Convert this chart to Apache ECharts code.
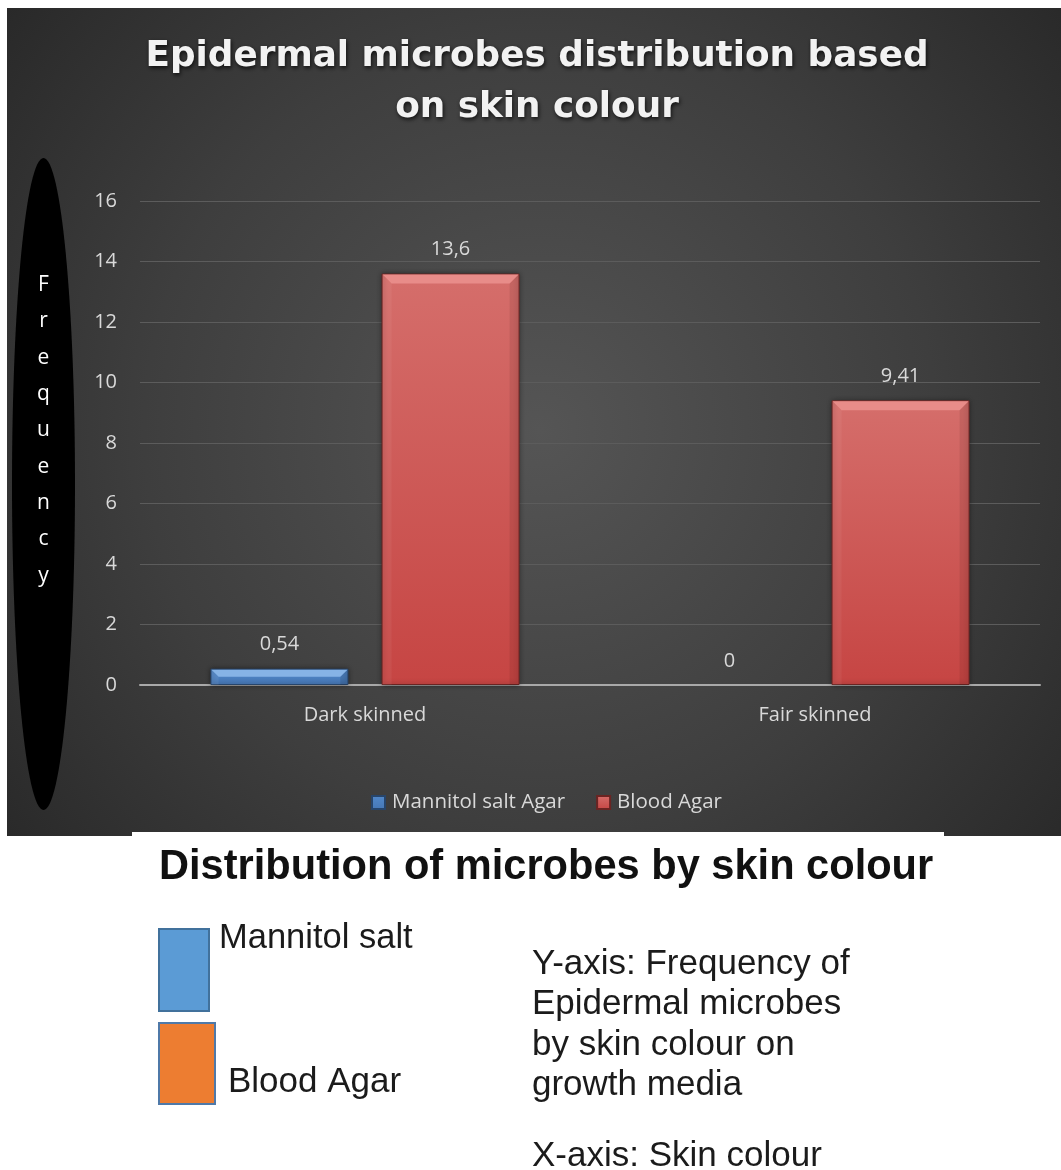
<!DOCTYPE html>
<html>
<head>
<meta charset="utf-8">
<script src="https://cdn.jsdelivr.net/npm/echarts@6/dist/echarts.min.js"></script>
<style>
  html, body { margin: 0; padding: 0; background: #ffffff; }
  #chart { width: 1061px; height: 1170px; }
</style>
</head>
<body>
<div id="chart"></div>
<script>
// ---- data ----
const categories = ['Dark skinned', 'Fair skinned'];
const seriesNames = ['Mannitol salt Agar', 'Blood Agar'];
const mannitolSalt = [0.54, 0];
const bloodAgar = [13.6, 9.41];
const yMin = 0, yMax = 16, yStep = 2;

// ---- text ----
const titleLines = ['Epidermal microbes distribution based', 'on skin colour'];
const yAxisTitle = 'Frequency';
const noteTitle = 'Distribution of microbes by skin colour';
const keyLabels = ['Mannitol salt', 'Blood Agar'];
const yNoteLines = ['Y-axis: Frequency of', 'Epidermal microbes', 'by skin colour on', 'growth media'];
const xNote = 'X-axis: Skin colour';

// ---- styling ----
const BAR_W = 138;
const BAR_GAP = 0.24;
const LABEL_COLOR = '#d9d9d9';
const BODY_FONT = '"Open Sans", "DejaVu Sans", sans-serif';
const NOTE_FONT = '"Liberation Sans", Arial, sans-serif';
const SKINS = [
  { top: '#5289cb', bottom: '#4677b5', edge: '#27456b', bevelTop: '#86b3e6', left: 'rgba(255,255,255,0.06)', right: 'rgba(0,0,0,0.10)' },
  { top: '#d56e6b', bottom: '#c64543', edge: '#6a2422', bevelTop: '#e88c89', left: 'rgba(255,255,255,0.05)', right: 'rgba(0,0,0,0.08)' }
];

const fmt = v => String(v).replace('.', ',');
const valueSets = [mannitolSalt, bloodAgar];

function barSeries(i) {
  const s = SKINS[i];
  return {
    type: 'bar',
    name: seriesNames[i],
    // empty bars get no outline so nothing is drawn along the axis
    data: valueSets[i].map(v => ({ value: v, itemStyle: { borderWidth: v > 0 ? 1 : 0 } })),
    barWidth: BAR_W,
    barGap: (BAR_GAP * 100) + '%',
    z: 2,
    itemStyle: {
      color: { type: 'linear', x: 0, y: 0, x2: 0, y2: 1,
        colorStops: [{ offset: 0, color: s.top }, { offset: 1, color: s.bottom }] },
      borderColor: s.edge,
      borderWidth: 1,
      shadowColor: 'rgba(0,0,0,0.45)',
      shadowBlur: 5
    },
    label: {
      show: true,
      position: 'top',
      distance: 14,
      color: LABEL_COLOR,
      fontSize: 20,
      fontFamily: BODY_FONT,
      formatter: p => fmt(p.value)
    }
  };
}

// bevel highlight drawn over each bar: [category index, value, series index]
const bevelData = [];
valueSets.forEach((vals, s) => vals.forEach((v, c) => bevelData.push([c, v, s])));

const bevelSeries = {
  type: 'custom',
  name: 'bevel',
  silent: true,
  z: 3,
  data: bevelData,
  renderItem(params, api) {
    const v = api.value(1);
    if (!(v > 0)) return;
    const s = api.value(2);
    const top = api.coord([api.value(0), v]);
    const base = api.coord([api.value(0), 0]);
    const off = (s === 0 ? -1 : 1) * BAR_W * (1 + BAR_GAP) / 2;
    const x0 = top[0] + off - BAR_W / 2;
    const x1 = x0 + BAR_W;
    const y0 = top[1];
    const y1 = base[1];
    const d = Math.min(10, (y1 - y0) / 2);
    const c = SKINS[s];
    return {
      type: 'group',
      children: [
        { type: 'polygon', shape: { points: [[x0 + 1, y0 + 1], [x0 + d, y0 + d], [x0 + d, y1], [x0 + 1, y1]] }, style: { fill: c.left } },
        { type: 'polygon', shape: { points: [[x1 - 1, y0 + 1], [x1 - 1, y1], [x1 - d, y1], [x1 - d, y0 + d]] }, style: { fill: c.right } },
        { type: 'polygon', shape: { points: [[x0 + 1, y0 + 1], [x1 - 1, y0 + 1], [x1 - d, y0 + d], [x0 + d, y0 + d]] }, style: { fill: c.bevelTop } }
      ]
    };
  }
};

// ---- decorations & notes ----
const graphics = [
  { type: 'rect', z: -20, silent: true,
    shape: { x: 7, y: 8, width: 1054, height: 828 },
    style: { fill: new echarts.graphic.RadialGradient(540, 430, 720,
      [{ offset: 0, color: '#555555' }, { offset: 0.55, color: '#3e3e3e' }, { offset: 1, color: '#262626' }], true) } },
  { type: 'rect', z: -19, silent: true,
    shape: { x: 132, y: 832, width: 812, height: 4 }, style: { fill: '#ffffff' } },
  { type: 'ellipse', z: -10, silent: true,
    shape: { cx: 43.5, cy: 484, rx: 31.5, ry: 326 }, style: { fill: '#000000' } },
  { type: 'text', z: 10, silent: true, x: 43.5, y: 267,
    style: { text: yAxisTitle.split('').join('\n'), fill: '#ffffff', fontSize: 21, fontFamily: BODY_FONT,
      lineHeight: 36.3, align: 'center', verticalAlign: 'top' } }
];

titleLines.forEach((line, i) => graphics.push({
  type: 'text', z: 10, silent: true, x: 537, y: 57 + i * 51,
  style: { text: line, fill: '#f2f2f2', fontSize: 35.8, fontWeight: 'bold', fontFamily: '"DejaVu Sans", sans-serif',
    align: 'center', verticalAlign: 'middle',
    textShadowColor: 'rgba(0,0,0,0.75)', textShadowBlur: 4, textShadowOffsetX: 1, textShadowOffsetY: 2 }
}));

graphics.push({
  type: 'text', z: 10, silent: true, x: 159, y: 868,
  style: { text: noteTitle, fill: '#111111', fontSize: 41.6, fontWeight: 'bold', fontFamily: NOTE_FONT,
    align: 'left', verticalAlign: 'middle' }
});

// colour key boxes
graphics.push(
  { type: 'rect', z: 10, silent: true, shape: { x: 159, y: 929, width: 50, height: 82 },
    style: { fill: '#5b9bd5', stroke: '#41719c', lineWidth: 2 } },
  { type: 'rect', z: 10, silent: true, shape: { x: 159, y: 1023, width: 56, height: 81 },
    style: { fill: '#ed7d31', stroke: '#4f79a8', lineWidth: 2 } }
);
[[219, 938, 34.5], [228, 1082, 35]].forEach((p, i) => graphics.push({
  type: 'text', z: 10, silent: true, x: p[0], y: p[1],
  style: { text: keyLabels[i], fill: '#1b1b1b', fontSize: p[2], fontFamily: NOTE_FONT,
    align: 'left', verticalAlign: 'middle' }
}));

yNoteLines.forEach((line, i) => graphics.push({
  type: 'text', z: 10, silent: true, x: 532, y: 964 + i * 40.5,
  style: { text: line, fill: '#1b1b1b', fontSize: 35, fontFamily: NOTE_FONT, align: 'left', verticalAlign: 'middle' }
}));
graphics.push({
  type: 'text', z: 10, silent: true, x: 532, y: 1156,
  style: { text: xNote, fill: '#1b1b1b', fontSize: 35, fontFamily: NOTE_FONT, align: 'left', verticalAlign: 'middle' }
});

const chart = echarts.init(document.getElementById('chart'), null, { renderer: 'canvas' });
chart.setOption({
  backgroundColor: '#ffffff',
  animation: false,
  textStyle: { fontFamily: BODY_FONT },
  grid: { left: 140, right: 21, top: 201, bottom: 485, containLabel: false, outerBoundsMode: 'none' },
  legend: {
    data: seriesNames.map(n => ({ name: n, icon: 'rect' })),
    left: 366, top: 787,
    itemWidth: 13, itemHeight: 13, itemGap: 31,
    textStyle: { color: LABEL_COLOR, fontSize: 20.5, fontFamily: BODY_FONT, padding: [0, 0, 0, 2] },
    selectedMode: false
  },
  xAxis: {
    type: 'category',
    data: categories,
    axisTick: { show: false },
    axisLine: { lineStyle: { color: '#a9a9a9', width: 2 } },
    axisLabel: { color: LABEL_COLOR, fontSize: 20, fontFamily: BODY_FONT, margin: 20 }
  },
  yAxis: {
    type: 'value',
    min: yMin, max: yMax, interval: yStep,
    axisLine: { show: false },
    axisTick: { show: false },
    splitLine: { lineStyle: { color: '#5c5c5c', width: 1 } },
    axisLabel: { color: LABEL_COLOR, fontSize: 20, fontFamily: BODY_FONT, margin: 23 }
  },
  graphic: graphics,
  series: [barSeries(0), barSeries(1), bevelSeries]
});
</script>
</body>
</html>
